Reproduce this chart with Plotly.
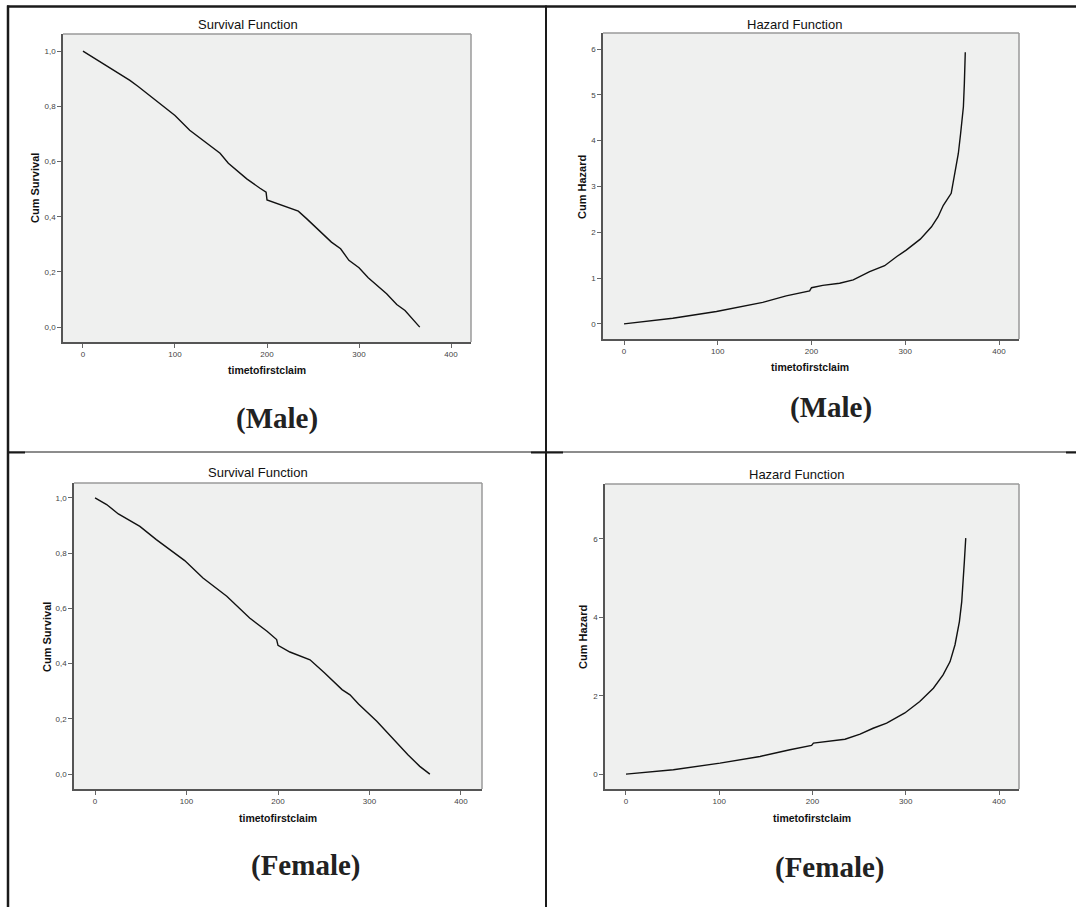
import plotly.graph_objects as go

W, H = 1076, 907

# ---------------- data ----------------
male_surv_t = [0, 51, 60, 100, 116, 149, 158, 178, 192, 199, 200, 214, 234, 243, 254, 270, 280, 289, 300, 310, 330, 341, 350, 366]
male_surv_s = [1.0, 0.894, 0.872, 0.767, 0.713, 0.630, 0.594, 0.537, 0.504, 0.489, 0.461, 0.444, 0.420, 0.393, 0.359, 0.308, 0.284, 0.242, 0.215, 0.179, 0.121, 0.082, 0.060, 0.0]

male_haz_t = [0, 52, 98.6, 148, 173, 198, 200, 212, 230, 244.5, 262, 278, 291, 301, 316, 328, 335, 340.6, 349, 353, 356.6, 359, 361, 362, 363, 364]
male_haz_h = [0, 0.123, 0.27, 0.47, 0.61, 0.72, 0.79, 0.84, 0.886, 0.96, 1.14, 1.27, 1.47, 1.61, 1.85, 2.12, 2.34, 2.59, 2.85, 3.28, 3.72, 4.15, 4.52, 4.74, 5.24, 5.93]

female_surv_t = [0, 12.7, 25.5, 49, 67, 98, 118, 144, 169, 188, 198.5, 200, 213, 235, 251, 270, 278.7, 288, 308, 328, 342, 355, 366]
female_surv_s = [1.0, 0.976, 0.942, 0.897, 0.849, 0.773, 0.710, 0.644, 0.565, 0.517, 0.487, 0.466, 0.442, 0.414, 0.366, 0.306, 0.287, 0.254, 0.191, 0.118, 0.070, 0.028, 0.0]

female_haz_t = [0, 50.8, 100.8, 143.7, 175.8, 199, 201, 218.8, 234.8, 251, 265, 279.5, 299, 315, 329.6, 340, 347.5, 352.8, 357.5, 360, 361.8, 362.8, 364.3]
female_haz_h = [0, 0.11, 0.28, 0.45, 0.62, 0.73, 0.79, 0.85, 0.89, 1.02, 1.17, 1.30, 1.56, 1.85, 2.19, 2.53, 2.87, 3.30, 3.89, 4.40, 4.91, 5.42, 6.02]

x_ticks = [0, 100, 200, 300, 400]
surv_ticks = [0.0, 0.2, 0.4, 0.6, 0.8, 1.0]
surv_ticktext = ["0,0", "0,2", "0,4", "0,6", "0,8", "1,0"]
haz_ticks_male = [0, 1, 2, 3, 4, 5, 6]
haz_ticks_female = [0, 2, 4, 6]

panel_titles = ["Survival Function", "Hazard Function", "Survival Function", "Hazard Function"]
y_titles = ["Cum Survival", "Cum Hazard", "Cum Survival", "Cum Hazard"]
x_title = "timetofirstclaim"
captions = ["(Male)", "(Male)", "(Female)", "(Female)"]

# ---------------- layout geometry (pixels) ----------------
def px(x):
    return x / W

def py(y):
    return 1 - y / H

panels = [
    dict(box=(63, 34, 471, 342), xr=[-21.7, 421.7], yr=[-0.054, 1.062],
         title=(248, 25), ylab=(35, 188), xlab=(267, 370), cap=(277, 418)),
    dict(box=(603, 33, 1019, 339), xr=[-22.4, 421.3], yr=[-0.33, 6.35],
         title=(794, 24), ylab=(582, 187), xlab=(810, 367), cap=(831, 407)),
    dict(box=(74, 483, 482, 789), xr=[-23, 423], yr=[-0.054, 1.054],
         title=(258, 473), ylab=(47, 637), xlab=(278, 818), cap=(306, 865)),
    dict(box=(605, 484, 1019, 789), xr=[-22.5, 421.4], yr=[-0.38, 7.4],
         title=(796, 474), ylab=(583, 637), xlab=(812, 818), cap=(830, 867)),
]

series = [
    (male_surv_t, male_surv_s),
    (male_haz_t, male_haz_h),
    (female_surv_t, female_surv_s),
    (female_haz_t, female_haz_h),
]
ytick_specs = [
    (surv_ticks, surv_ticktext),
    (haz_ticks_male, [str(v) for v in haz_ticks_male]),
    (surv_ticks, surv_ticktext),
    (haz_ticks_female, [str(v) for v in haz_ticks_female]),
]

fig = go.Figure()
shapes = []
annotations = []

sans = "Liberation Sans, Arial, sans-serif"
axis_font = dict(family=sans, size=8, color="#444444")

for i, (p, (xs, ys), (tv, tt)) in enumerate(zip(panels, series, ytick_specs)):
    n = "" if i == 0 else str(i + 1)
    xa, ya = "x" + n, "y" + n
    l, t, r, b = p["box"]
    fig.add_trace(go.Scatter(
        x=xs, y=ys, mode="lines", xaxis=xa, yaxis=ya,
        line=dict(color="#111111", width=1.4), showlegend=False, hoverinfo="x+y"))
    common_ax = dict(showgrid=False, zeroline=False, ticks="outside", ticklen=4,
                     tickcolor="#666666", tickwidth=1, tickfont=axis_font,
                     showline=True, linecolor="#555555", linewidth=1.5, mirror=False)
    fig.update_layout(**{
        "xaxis" + n: dict(domain=[px(l), px(r)], range=p["xr"], anchor=ya,
                          tickvals=x_ticks, ticktext=[str(v) for v in x_ticks], **common_ax),
        "yaxis" + n: dict(domain=[py(b), py(t)], range=p["yr"], anchor=xa,
                          tickvals=tv, ticktext=tt, **common_ax),
    })
    shapes.append(dict(type="line", xref="paper", yref="paper", x0=px(l), x1=px(r), y0=py(t), y1=py(t),
                       line=dict(color="#9a9a9a", width=1.5), layer="above"))
    shapes.append(dict(type="line", xref="paper", yref="paper", x0=px(r), x1=px(r), y0=py(t), y1=py(b),
                       line=dict(color="#9a9a9a", width=1.5), layer="above"))
    annotations.append(dict(text=panel_titles[i], x=px(p["title"][0]), y=py(p["title"][1]),
                            xref="paper", yref="paper", showarrow=False, xanchor="center", yanchor="middle",
                            font=dict(family=sans, size=13, color="#111111")))
    annotations.append(dict(text="<b>" + y_titles[i] + "</b>", x=px(p["ylab"][0]), y=py(p["ylab"][1]),
                            xref="paper", yref="paper", showarrow=False, textangle=-90,
                            xanchor="center", yanchor="middle",
                            font=dict(family=sans, size=11, color="#111111")))
    annotations.append(dict(text="<b>" + x_title + "</b>", x=px(p["xlab"][0]), y=py(p["xlab"][1]),
                            xref="paper", yref="paper", showarrow=False, xanchor="center", yanchor="middle",
                            font=dict(family=sans, size=10.5, color="#111111")))
    annotations.append(dict(text="<b>" + captions[i] + "</b>", x=px(p["cap"][0]), y=py(p["cap"][1]),
                            xref="paper", yref="paper", showarrow=False, xanchor="center", yanchor="middle",
                            font=dict(family="Liberation Serif, Times New Roman, serif", size=29, color="#222222")))

def hline(x0, x1, y, w):
    shapes.append(dict(type="line", xref="paper", yref="paper", x0=px(x0), x1=px(x1), y0=py(y), y1=py(y),
                       line=dict(color="#1a1a1a", width=w), layer="above"))

def vline(x, y0, y1, w):
    shapes.append(dict(type="line", xref="paper", yref="paper", x0=px(x), x1=px(x), y0=py(y0), y1=py(y1),
                       line=dict(color="#1a1a1a", width=w), layer="above"))

hline(7, 1076, 6.5, 2.5)
vline(8, 5.5, 907, 2.5)
vline(546, 5.5, 907, 2)
hline(8, 1076, 452, 1)
hline(531, 563, 452.5, 2)
hline(8, 25, 452.5, 2)
hline(1066, 1076, 452.5, 2)

fig.update_layout(
    width=W, height=H,
    margin=dict(l=0, r=0, t=0, b=0),
    paper_bgcolor="white",
    plot_bgcolor="#eff0ef",
    shapes=shapes,
    annotations=annotations,
    showlegend=False,
)

fig.write_html("out.html",
               config={"displayModeBar": False},
               post_script="document.body.style.margin='0';document.body.style.padding='0';document.body.style.overflow='hidden';")
